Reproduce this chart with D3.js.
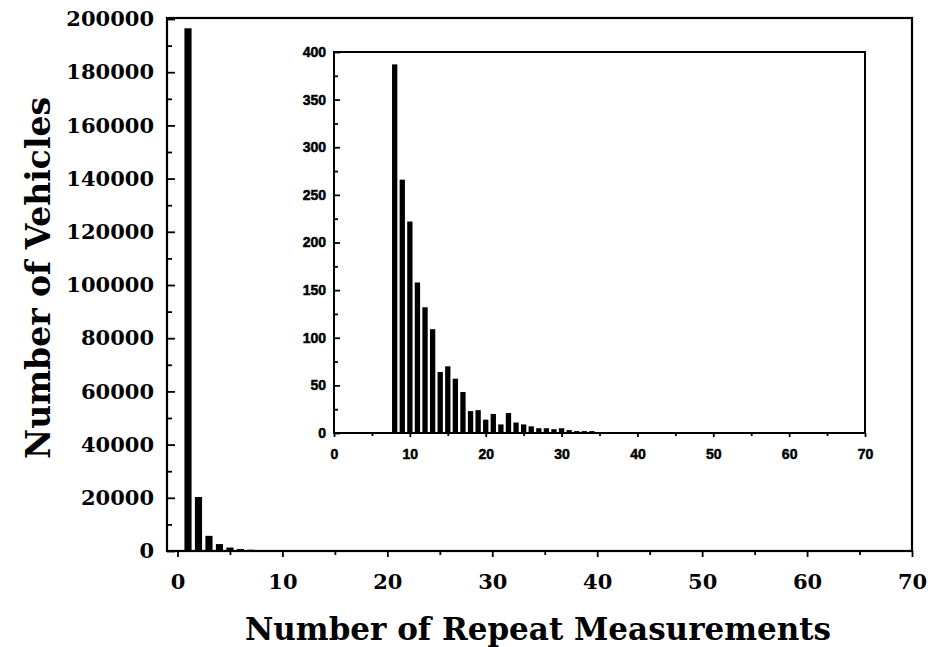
<!DOCTYPE html>
<html>
<head>
<meta charset="utf-8">
<script src="https://cdn.jsdelivr.net/npm/d3@7"></script>
<style>
  body { margin: 0; background: #fff; }
  svg { display: block; }
</style>
</head>
<body>
<svg id="repeats" width="930" height="647"></svg>
<script>
const svg = d3.select('#repeats');

// repeat count (x) and number of vehicles (y)
const repeats = [1, 2, 3, 4, 5, 6, 7, 8, 9, 10, 11, 12, 13, 14, 15, 16, 17, 18, 19, 20,
  21, 22, 23, 24, 25, 26, 27, 28, 29, 30, 31, 32, 33, 34, 35, 36, 37, 38, 39, 40];
const vehicles = [196500, 20300, 5700, 2600, 1300, 750, 480, 387, 266, 222, 158, 132, 109, 64, 70, 57, 43, 23, 24, 14,
  20, 9, 21, 11, 9, 7, 5, 5, 4, 5, 3, 2, 2, 2, 1, 1, 1, 1, 1, 1];

// inset only shows the tail from 8 repeats on
const insetStart = 8;

const mainXTicks = [0, 10, 20, 30, 40, 50, 60, 70];
const mainXMinor = [5, 15, 25, 35, 45, 55, 65];
const mainYTicks = [0, 20000, 40000, 60000, 80000, 100000, 120000, 140000, 160000, 180000, 200000];
const mainYMinor = [10000, 30000, 50000, 70000, 90000, 110000, 130000, 150000, 170000, 190000];
const insetYTicks = [0, 50, 100, 150, 200, 250, 300, 350, 400];
const insetYMinor = [25, 75, 125, 175, 225, 275, 325, 375];

const data = repeats.map((r, i) => ({ repeat: r, count: vehicles[i] }));
const xValue = d => d.repeat;
const yValue = d => d.count;

const serif = "'DejaVu Serif', 'Liberation Serif', serif";
const sans = "'Liberation Sans', Arial, sans-serif";

// main panel
const xMain = d3.scaleLinear().domain([-1, 70]).range([167, 912]);
const yMain = d3.scaleLinear().domain([0, 200000]).range([551, 19]);

// inset panel
const xIn = d3.scaleLinear().domain([0, 70]).range([334, 865]);
const yIn = d3.scaleLinear().domain([0, 400]).range([433, 52]);

const styleAxis = (g, font, size) => {
  g.select('.domain').remove();
  g.selectAll('line').attr('stroke', '#000').attr('stroke-width', 1.8);
  g.selectAll('text')
    .attr('fill', '#000')
    .attr('font-family', font)
    .attr('font-size', size)
    .attr('font-weight', 'bold');
};

// ---- main chart ----
svg.append('g').selectAll('rect.main').data(data)
  .enter().append('rect')
  .attr('class', 'main')
  .attr('x', d => xMain(xValue(d) - 0.34))
  .attr('width', xMain(0.68) - xMain(0))
  .attr('y', d => yMain(yValue(d)))
  .attr('height', d => yMain(0) - yMain(yValue(d)))
  .attr('fill', '#000');

svg.append('g')
  .attr('transform', `translate(0, ${yMain(0)})`)
  .call(d3.axisBottom(xMain).tickValues(mainXTicks).tickSize(6).tickPadding(17))
  .call(g => styleAxis(g, serif, '21px'));
svg.append('g')
  .attr('transform', `translate(0, ${yMain(0)})`)
  .call(d3.axisBottom(xMain).tickValues(mainXMinor).tickSize(4).tickFormat(''))
  .call(g => styleAxis(g, serif, '21px'));

svg.append('g')
  .attr('transform', `translate(${xMain(-1)}, 0)`)
  .call(d3.axisLeft(yMain).tickValues(mainYTicks).tickSize(-8).tickPadding(13).tickFormat(d3.format('d')))
  .call(g => styleAxis(g, serif, '21px'));
svg.append('g')
  .attr('transform', `translate(${xMain(-1)}, 0)`)
  .call(d3.axisLeft(yMain).tickValues(mainYMinor).tickSize(-5).tickFormat(''))
  .call(g => styleAxis(g, serif, '21px'));

svg.append('rect')
  .attr('x', xMain(-1)).attr('y', yMain(200000) - 1)
  .attr('width', xMain(70) - xMain(-1))
  .attr('height', yMain(0) - yMain(200000) + 1)
  .attr('fill', 'none').attr('stroke', '#000').attr('stroke-width', 2.2);

svg.append('text')
  .attr('x', 538).attr('y', 640)
  .attr('text-anchor', 'middle')
  .attr('font-family', serif).attr('font-size', '31px').attr('font-weight', 'bold')
  .text('Number of Repeat Measurements');

svg.append('text')
  .attr('transform', 'translate(50, 278) rotate(-90)')
  .attr('text-anchor', 'middle')
  .attr('font-family', serif).attr('font-size', '33px').attr('font-weight', 'bold')
  .text('Number of Vehicles');

// ---- inset ----
const inset = svg.append('g');
inset.append('rect')
  .attr('x', xIn(0)).attr('y', yIn(400))
  .attr('width', xIn(70) - xIn(0))
  .attr('height', yIn(0) - yIn(400))
  .attr('fill', '#fff');

inset.selectAll('rect.bar').data(data.filter(d => xValue(d) >= insetStart))
  .enter().append('rect')
  .attr('class', 'bar')
  .attr('x', d => xIn(xValue(d) - 0.35))
  .attr('width', xIn(0.7) - xIn(0))
  .attr('y', d => yIn(yValue(d)))
  .attr('height', d => yIn(0) - yIn(yValue(d)))
  .attr('fill', '#000');

inset.append('g')
  .attr('transform', `translate(0, ${yIn(0)})`)
  .call(d3.axisBottom(xIn).tickValues(mainXTicks).tickSize(4).tickPadding(12))
  .call(g => styleAxis(g, sans, '14px'));
inset.append('g')
  .attr('transform', `translate(0, ${yIn(0)})`)
  .call(d3.axisBottom(xIn).tickValues(mainXMinor).tickSize(3).tickFormat(''))
  .call(g => styleAxis(g, sans, '14px'));

inset.append('g')
  .attr('transform', `translate(${xIn(0)}, 0)`)
  .call(d3.axisLeft(yIn).tickValues(insetYTicks).tickSize(-6).tickPadding(8))
  .call(g => styleAxis(g, sans, '14px'));
inset.append('g')
  .attr('transform', `translate(${xIn(0)}, 0)`)
  .call(d3.axisLeft(yIn).tickValues(insetYMinor).tickSize(-4).tickFormat(''))
  .call(g => styleAxis(g, sans, '14px'));

inset.selectAll('text').attr('stroke', '#000').attr('stroke-width', 0.5);

inset.append('rect')
  .attr('x', xIn(0)).attr('y', yIn(400))
  .attr('width', xIn(70) - xIn(0))
  .attr('height', yIn(0) - yIn(400))
  .attr('fill', 'none').attr('stroke', '#000').attr('stroke-width', 2);
</script>
</body>
</html>
